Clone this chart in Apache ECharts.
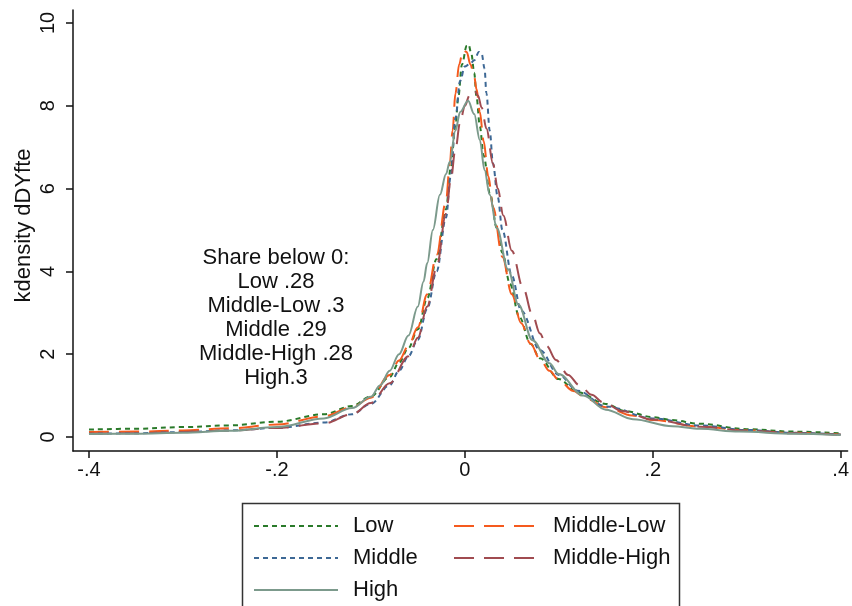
<!DOCTYPE html>
<html>
<head>
<meta charset="utf-8">
<script src="https://cdn.jsdelivr.net/npm/echarts@6/dist/echarts.min.js"></script>
<style>
  html, body { margin: 0; padding: 0; background: #fff; }
  #chart { width: 852px; height: 606px; }
</style>
</head>
<body>
<div id="chart"></div>
<script>
// kdensity curves, [x, density]
const lowDensity = [
  [-0.4, 0.18], [-0.35, 0.2], [-0.3, 0.24], [-0.25, 0.28], [-0.2, 0.37], [-0.15, 0.55],
  [-0.12, 0.75], [-0.1, 0.98], [-0.08, 1.45], [-0.07, 1.8], [-0.06, 2.15], [-0.05, 2.6],
  [-0.04, 3.35], [-0.03, 4.3], [-0.02, 5.5], [-0.015, 6.5], [-0.01, 7.5], [-0.007, 8.2],
  [-0.003, 9.0], [0.002, 9.45], [0.004, 9.48], [0.007, 9.25], [0.01, 8.8], [0.0125, 8.2],
  [0.016, 7.5], [0.02, 6.8], [0.027, 5.85], [0.034, 5.05], [0.04, 4.45], [0.048, 3.7],
  [0.058, 2.9], [0.07, 2.25], [0.08, 1.9], [0.1, 1.4], [0.12, 1.08], [0.15, 0.8],
  [0.17, 0.63], [0.2, 0.48], [0.22, 0.41], [0.25, 0.32], [0.3, 0.19], [0.35, 0.13], [0.4, 0.09]
];
const middleLowDensity = [
  [-0.4, 0.12], [-0.35, 0.13], [-0.3, 0.16], [-0.25, 0.21], [-0.2, 0.3], [-0.15, 0.5],
  [-0.12, 0.72], [-0.1, 0.95], [-0.08, 1.5], [-0.07, 1.85], [-0.06, 2.2], [-0.05, 2.65],
  [-0.04, 3.45], [-0.03, 4.4], [-0.02, 5.7], [-0.016, 6.6], [-0.013, 7.4], [-0.01, 8.3],
  [-0.006, 9.0], [-0.002, 9.35], [0.002, 9.3], [0.006, 9.0], [0.01, 8.7], [0.0125, 8.4],
  [0.016, 7.85], [0.02, 7.15], [0.025, 6.3], [0.03, 5.55], [0.04, 4.35], [0.05, 3.45],
  [0.06, 2.75], [0.07, 2.25], [0.08, 1.88], [0.09, 1.6], [0.1, 1.38], [0.115, 1.12],
  [0.13, 0.92], [0.15, 0.72], [0.178, 0.52], [0.2, 0.41], [0.25, 0.25], [0.3, 0.16],
  [0.35, 0.1], [0.4, 0.06]
];
const middleDensity = [
  [-0.4, 0.08], [-0.35, 0.09], [-0.3, 0.12], [-0.25, 0.16], [-0.2, 0.22], [-0.15, 0.35],
  [-0.12, 0.55], [-0.1, 0.8], [-0.08, 1.25], [-0.07, 1.6], [-0.06, 1.95], [-0.05, 2.35],
  [-0.04, 3.1], [-0.03, 4.0], [-0.02, 5.3], [-0.015, 6.3], [-0.01, 7.7], [-0.005, 8.6],
  [0, 8.95], [0.005, 9.0], [0.01, 9.1], [0.015, 9.3], [0.018, 9.25], [0.021, 8.9],
  [0.023, 8.3], [0.0265, 7.4], [0.03, 6.6], [0.035, 5.8], [0.04, 5.0], [0.05, 3.9],
  [0.06, 3.05], [0.08, 2.1], [0.1, 1.5], [0.12, 1.12], [0.15, 0.74], [0.2, 0.45],
  [0.25, 0.28], [0.3, 0.17], [0.35, 0.1], [0.4, 0.06]
];
const middleHighDensity = [
  [-0.4, 0.08], [-0.35, 0.09], [-0.3, 0.12], [-0.25, 0.16], [-0.2, 0.22], [-0.15, 0.33],
  [-0.12, 0.55], [-0.1, 0.82], [-0.08, 1.3], [-0.06, 1.95], [-0.05, 2.4], [-0.04, 3.15],
  [-0.03, 4.1], [-0.02, 5.4], [-0.015, 6.2], [-0.01, 6.95], [-0.005, 7.6], [0, 8.0],
  [0.005, 8.25], [0.01, 8.38], [0.014, 8.25], [0.018, 7.95], [0.023, 7.45], [0.03, 6.6],
  [0.035, 6.0], [0.041, 5.35], [0.05, 4.5], [0.062, 3.6], [0.072, 2.95], [0.08, 2.5],
  [0.087, 2.2], [0.097, 1.86], [0.11, 1.5], [0.122, 1.25], [0.135, 1.02], [0.147, 0.84],
  [0.168, 0.62], [0.2, 0.42], [0.25, 0.25], [0.3, 0.15], [0.35, 0.09], [0.4, 0.05]
];
const highDensity = [
  [-0.4, 0.07], [-0.35, 0.08], [-0.3, 0.1], [-0.25, 0.15], [-0.2, 0.24], [-0.15, 0.45],
  [-0.12, 0.7], [-0.1, 0.97], [-0.09, 1.25], [-0.08, 1.6], [-0.07, 2.0], [-0.06, 2.45],
  [-0.05, 3.15], [-0.044, 3.75], [-0.04, 4.2], [-0.034, 5.0], [-0.0265, 5.85], [-0.02, 6.35],
  [-0.016, 6.65], [-0.01, 7.4], [-0.005, 7.85], [0.0035, 8.12], [0.01, 7.8], [0.016, 7.17],
  [0.021, 6.45], [0.0265, 5.85], [0.034, 5.05], [0.046, 4.05], [0.057, 3.2], [0.072, 2.34],
  [0.09, 1.78], [0.1, 1.52], [0.126, 1.0], [0.15, 0.66], [0.179, 0.43], [0.221, 0.26],
  [0.25, 0.2], [0.292, 0.13], [0.35, 0.08], [0.4, 0.05]
];

const xTicks = [-0.4, -0.2, 0, 0.2, 0.4];
const yTicks = [0, 2, 4, 6, 8, 10];
const noteLines = ["Share below 0:", "Low .28", "Middle-Low .3", "Middle .29", "Middle-High .28", "High.3"];

const font = "'Liberation Sans', Arial, sans-serif";

const legendBase = {
  orient: "vertical",
  top: 515,
  padding: 0,
  itemWidth: 84,
  itemHeight: 14,
  itemGap: 10,
  itemStyle: { opacity: 0 },
  textStyle: { fontSize: 22, lineHeight: 22, color: "#111", padding: [0, 0, 0, 10] },
};

const myChart = echarts.init(document.getElementById("chart"));
myChart.setOption({
  animation: false,
  textStyle: { fontFamily: font, color: "#111" },
  grid: { left: 73, right: 3, top: 10, bottom: 155 },
  xAxis: {
    type: "value",
    min: -0.417,
    max: 0.4074,
    axisLine: { onZero: false, lineStyle: { color: "#111", width: 1.5 } },
    axisTick: { customValues: xTicks, length: 7, lineStyle: { color: "#111", width: 1.5 } },
    axisLabel: {
      customValues: xTicks,
      fontSize: 20,
      color: "#111",
      margin: 9,
      formatter(val) {
        if (val === 0) return "0";
        return (val < 0 ? "-" : "") + String(Math.abs(val)).replace(/^0/, "");
      },
    },
    splitLine: { show: false },
  },
  yAxis: {
    type: "value",
    min: -0.338,
    max: 10.314,
    name: "kdensity dDYfte",
    nameLocation: "middle",
    nameRotate: 90,
    nameGap: 38,
    nameMoveOverlap: false,
    nameTextStyle: { fontSize: 22, color: "#111", padding: [0, 0, 0, 10] },
    axisLine: { onZero: false, lineStyle: { color: "#111", width: 1.5 } },
    axisTick: { customValues: yTicks, length: 7, lineStyle: { color: "#111", width: 1.5 } },
    axisLabel: { customValues: yTicks, rotate: 90, fontSize: 20, color: "#111", margin: 15 },
    splitLine: { show: false },
  },
  legend: [
    { ...legendBase, left: 253, data: ["Low", "Middle", "High"] },
    { ...legendBase, left: 453, data: ["Middle-Low", "Middle-High"] },
  ],
  graphic: [
    {
      type: "rect",
      shape: { x: 242.5, y: 503.5, width: 437, height: 120 },
      style: { fill: "none", stroke: "#333", lineWidth: 1.5 },
    },
    {
      type: "text",
      x: 276,
      y: 246,
      style: {
        text: noteLines.join("\n"),
        font: "22px " + font,
        lineHeight: 24,
        fill: "#111",
        textAlign: "center",
      },
    },
  ],
  series: [
    { name: "Low", data: lowDensity, color: "#2a7a2a", dash: [5, 4] },
    { name: "Middle-Low", data: middleLowDensity, color: "#f55a1e", dash: [20, 10] },
    { name: "Middle", data: middleDensity, color: "#3d6895", dash: [5, 4] },
    { name: "Middle-High", data: middleHighDensity, color: "#a04b50", dash: [20, 10] },
    { name: "High", data: highDensity, color: "#7c9a8c", dash: "solid" },
  ].map((obj) => ({
    name: obj.name,
    type: "line",
    data: obj.data,
    symbol: "none",
    smooth: 0.35,
    smoothMonotone: "x",
    itemStyle: { color: obj.color },
    lineStyle: { color: obj.color, width: 2, type: obj.dash },
  })),
});
</script>
</body>
</html>
